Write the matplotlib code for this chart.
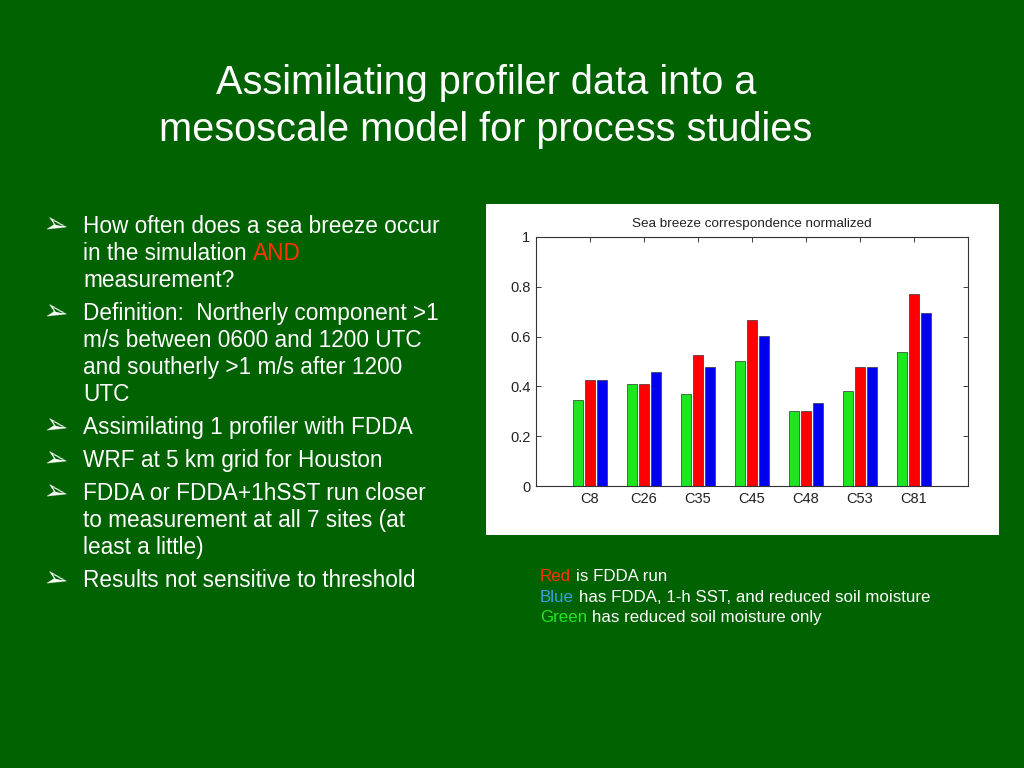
import matplotlib
matplotlib.use("Agg")
import matplotlib.pyplot as plt
from matplotlib.patches import Rectangle
from matplotlib.text import Annotation

# Data
sites = ['C8', 'C26', 'C35', 'C45', 'C48', 'C53', 'C81']
green_vals = [0.346, 0.410, 0.369, 0.501, 0.301, 0.381, 0.540]  # reduced soil moisture only
red_vals = [0.425, 0.410, 0.527, 0.667, 0.301, 0.477, 0.771]    # FDDA run
blue_vals = [0.425, 0.456, 0.476, 0.602, 0.333, 0.477, 0.694]   # FDDA + 1-h SST + soil moisture
y_ticks = [0, 0.2, 0.4, 0.6, 0.8, 1]
y_tick_labels = ['0', '0.2', '0.4', '0.6', '0.8', '1']

slide_title = ['Assimilating profiler data into a',
               'mesoscale model for process studies']
chart_title = 'Sea breeze correspondence normalized'

# each bullet = list of lines, each line = list of (text, colour) pieces
bullets = [
    [[('How often does a sea breeze occur', 'white')],
     [('in the simulation', 'white'), ('AND', '#ff3300')],
     [('measurement?', 'white')]],
    [[('Definition:  Northerly component >1', 'white')],
     [('m/s between 0600 and 1200 UTC', 'white')],
     [('and southerly >1 m/s after 1200', 'white')],
     [('UTC', 'white')]],
    [[('Assimilating 1 profiler with FDDA', 'white')]],
    [[('WRF at 5 km grid for Houston', 'white')]],
    [[('FDDA or FDDA+1hSST run closer', 'white')],
     [('to measurement at all 7 sites (at', 'white')],
     [('least a little)', 'white')]],
    [[('Results not sensitive to threshold', 'white')]],
]

caption = [
    [('Red', '#ff3300'), ('is FDDA run', 'white')],
    [('Blue', '#3a9fe0'), ('has FDDA, 1-h SST, and reduced soil moisture', 'white')],
    [('Green', '#22e622'), ('has reduced soil moisture only', 'white')],
]

BG = '#006200'
W, H = 1024, 768
FONT = 'Liberation Sans'


def fx(x):
    return x / W


def fy(y):
    return 1 - y / H


def draw_line(fig, x, y, pieces, size):
    # first piece placed at baseline, the rest chained after it
    prev = None
    for txt, col in pieces:
        if prev is None:
            prev = fig.text(fx(x), fy(y), txt, color=col, fontsize=size,
                            family=FONT, va='baseline', ha='left')
        else:
            ann = Annotation(txt, xy=(1, 0), xycoords=prev,
                             xytext=(0.278 * size, 0), textcoords='offset points',
                             color=col, fontsize=size, family=FONT,
                             va='bottom', ha='left')
            fig.add_artist(ann)
            prev = ann


fig = plt.figure(figsize=(W / 100, H / 100), dpi=100, facecolor=BG)

# slide title
fig.text(fx(486), fy(94), slide_title[0], color='white', fontsize=28.6,
         family=FONT, ha='center', va='baseline')
fig.text(fx(486), fy(141), slide_title[1], color='white', fontsize=28.6,
         family=FONT, ha='center', va='baseline')

# bullet list
y = 233
for b in bullets:
    fig.text(fx(41), fy(y - 7), '\u27a2', color='white', fontsize=21,
             family=['DejaVu Sans'], va='center', ha='left', rotation=-12)
    for line in b:
        draw_line(fig, 83, y, line, 16.3)
        y += 27
    y += 6

# caption under chart
y = 581
for line in caption:
    draw_line(fig, 540, y, line, 12.2)
    y += 20.5

# white panel behind the chart
fig.patches.append(Rectangle((fx(486), fy(535)), 513 / W, 331 / H,
                             transform=fig.transFigure, facecolor='white',
                             edgecolor='none', zorder=-1))

ax = fig.add_axes([fx(536), fy(486), (968 - 536) / W, (486 - 237) / H])
ax.set_facecolor('white')
ax.set_axisbelow(True)
x = list(range(1, len(sites) + 1))
bw = 0.2
off = 0.222
ax.bar([i - off for i in x], green_vals, bw, color='#1ee61e', edgecolor='#333333', linewidth=0.5)
ax.bar(x, red_vals, bw, color='#ff0000', edgecolor='#333333', linewidth=0.5)
ax.bar([i + off for i in x], blue_vals, bw, color='#0000f0', edgecolor='#333333', linewidth=0.5)

ax.set_xlim(0, 8)
ax.set_ylim(0, 1)
ax.set_xticks(x)
ax.set_xticklabels(sites)
ax.set_yticks(y_ticks)
ax.set_yticklabels(y_tick_labels)
ax.tick_params(direction='in', length=3.5, width=0.6, top=True, right=True,
               labelsize=10.5, pad=4, colors='#222222')
for lab in ax.get_xticklabels() + ax.get_yticklabels():
    lab.set_family(FONT)
for s in ax.spines.values():
    s.set_linewidth(0.8)
    s.set_color('#333333')

fig.text(fx(752), fy(227), chart_title, fontsize=9.7, family=FONT,
         color='#222222', ha='center', va='baseline')

fig.savefig('out.png', dpi=100, facecolor=BG)
